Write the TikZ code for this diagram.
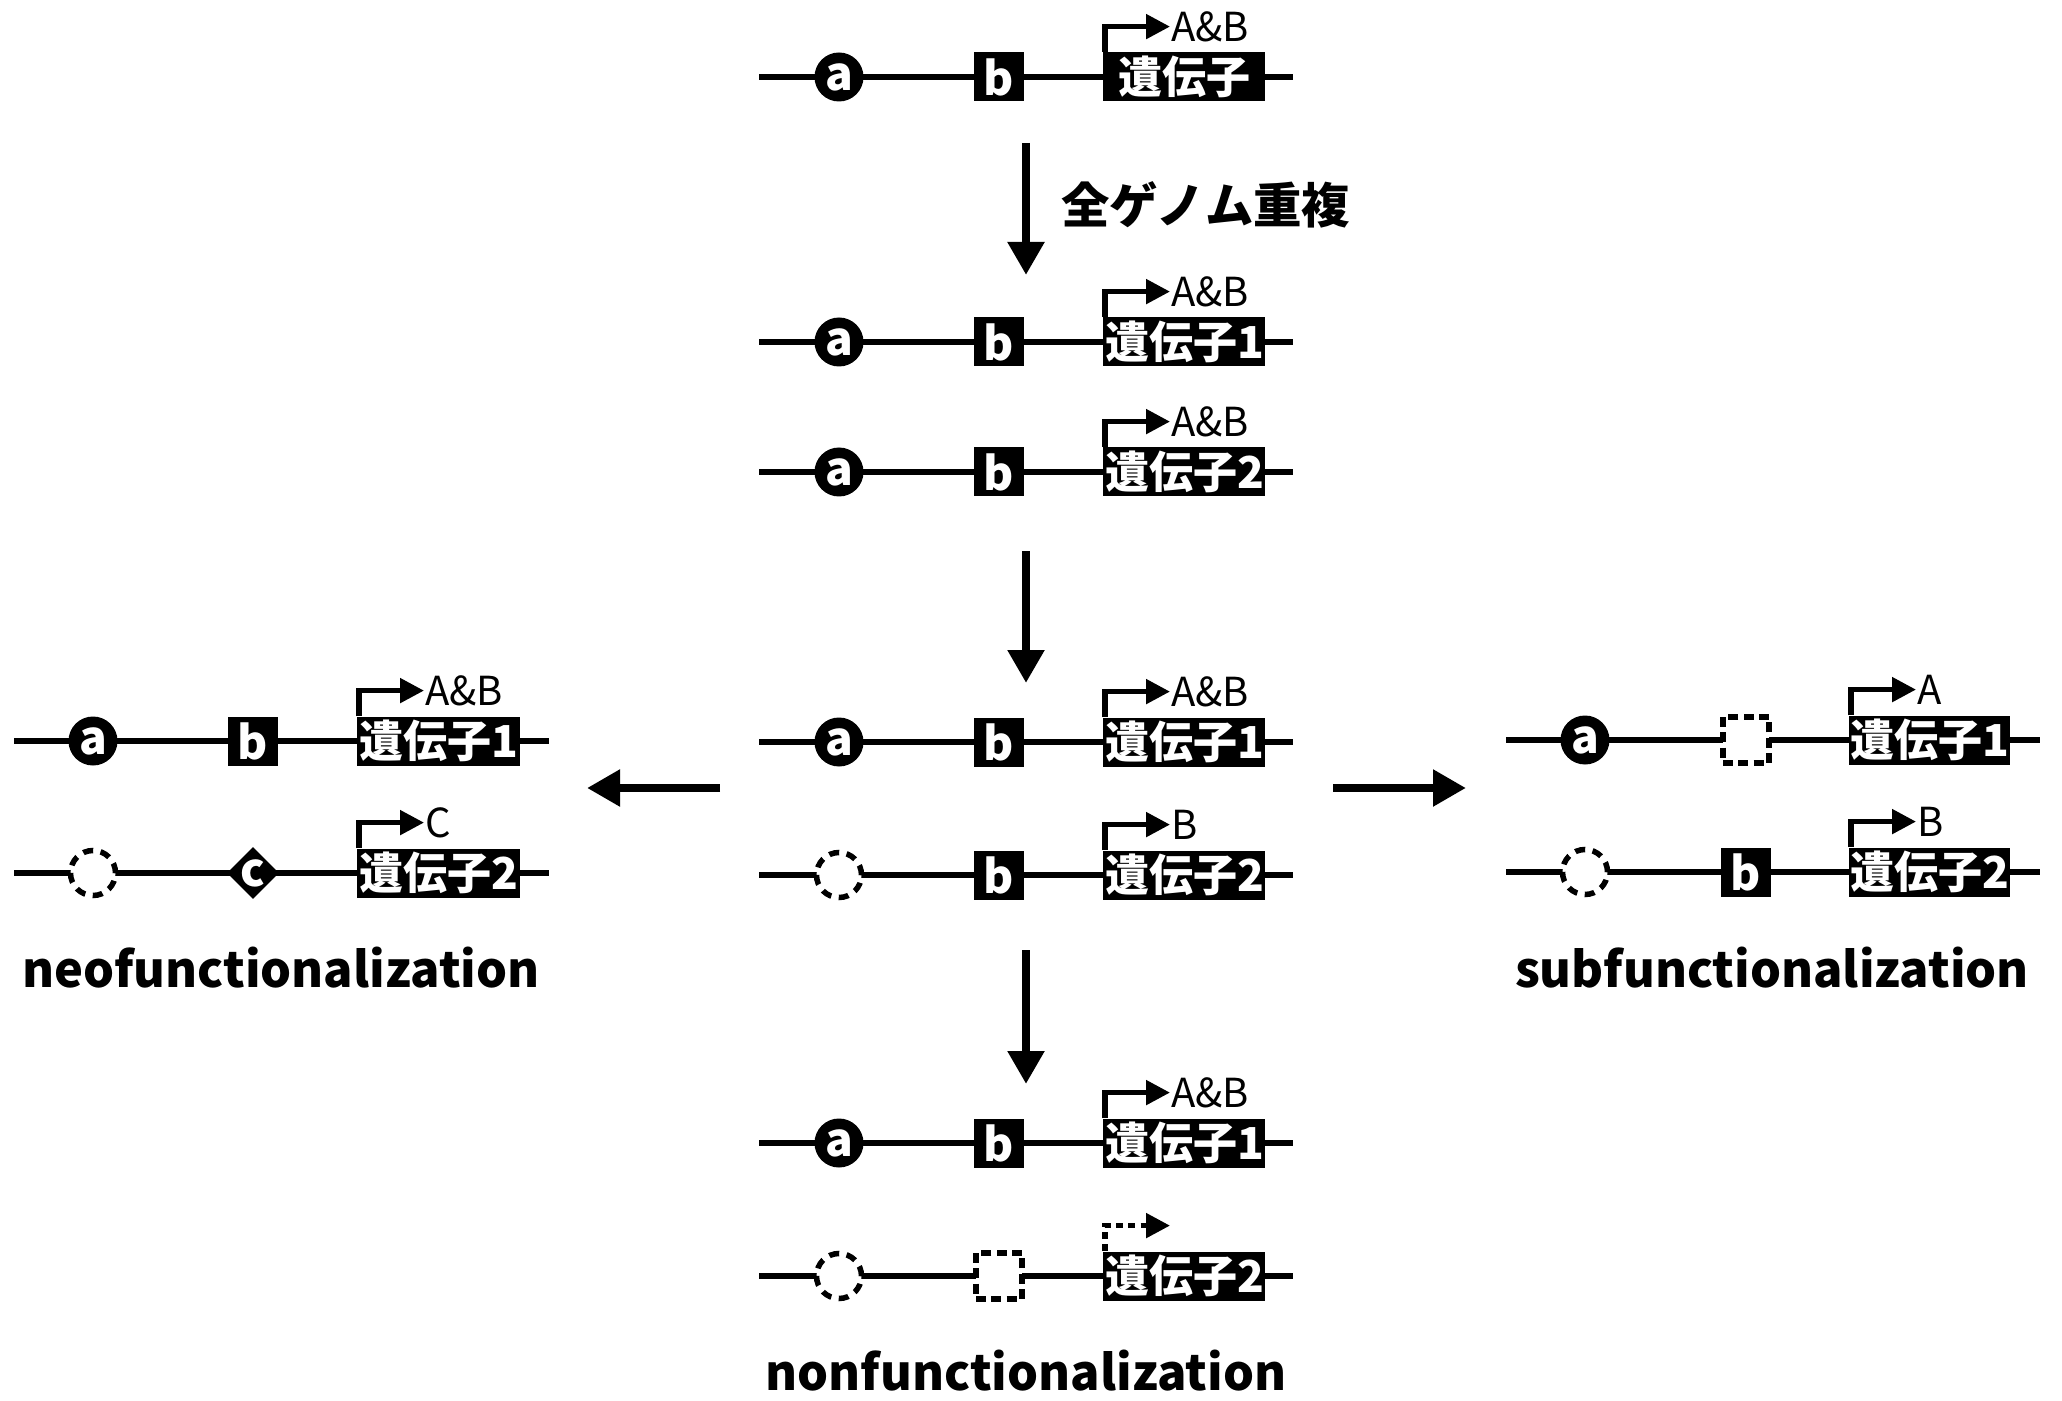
\documentclass[tikz,border=0pt]{standalone}
\usepackage{fontspec}
\setmainfont{Noto Sans CJK JP}
\usetikzlibrary{arrows.meta,shapes.geometric}
\tikzset{
  gline/.style={line width=3.4pt},
  elA/.style={circle,fill=black,text=white,minimum size=24.5pt,inner sep=0pt,font=\fontsize{23}{23}\selectfont\bfseries},
  elAdead/.style={circle,draw=black,fill=white,dash pattern=on 5pt off 3.8pt,line width=2.75pt,minimum size=22.5pt,inner sep=0pt},
  elB/.style={rectangle,fill=black,text=white,minimum width=25pt,minimum height=24.5pt,inner sep=0pt,font=\fontsize{23}{23}\selectfont\bfseries},
  elBdead/.style={rectangle,draw=black,fill=white,dash pattern=on 5pt off 2.67pt,line width=2.75pt,minimum width=23pt,minimum height=23pt,inner sep=0pt},
  elC/.style={diamond,fill=black,text=white,minimum width=24.5pt,minimum height=24pt,inner sep=0pt,font=\fontsize{23}{23}\selectfont\bfseries},
  gene/.style={rectangle,fill=black,text=white,anchor=west,minimum height=24.5pt,inner sep=0pt,font=\fontsize{22}{22}\selectfont\bfseries},
  prom/.style={line width=2.6pt,-{Triangle[length=12pt,width=12pt]}},
  promdead/.style={dash pattern=on 3.5pt off 2.6pt},
  promsolid/.style={},
  plabel/.style={anchor=base west,inner sep=0pt,font=\fontsize{20}{20}\selectfont},
  bigarrow/.style={line width=4.25pt,-{Triangle[length=16.5pt,width=17.5pt]}},
  title/.style={anchor=base,inner sep=0pt,font=\fontsize{24.4}{24.4}\selectfont\bfseries},
}
\newcommand\generow[9]{%
  \coordinate (#1s) at (\xs,#2);
  \coordinate (#1e) at (\xe,#2);
  \draw[gline] (#1s) -- (#1e);
  \node[#3] (#1a) at (\xa,#2) {#4};
  \node[#5] (#1b) at (\xb,#2) {#6};
  \node[gene,minimum width=\gw] (#1g) at (\xg,#2) {#7};
  \coordinate (#1p0) at ([xshift=1pt]#1g.north west);
  \coordinate (#1p1) at ([xshift=1pt,yshift=12.75pt]#1g.north west);
  \coordinate (#1p2) at ([xshift=33.5pt,yshift=12.75pt]#1g.north west);
  \draw[prom,#9] (#1p0) -- (#1p1) -- (#1p2);
  \node[plabel] (#1l) at ([xshift=34pt,yshift=5.5pt]#1g.north west) {#8};
}
\begin{document}
\begin{tikzpicture}[x=0.5pt,y=-0.5pt]
\useasboundingbox (0,0) rectangle (2062,1401);
% centre column
\def\xs{759}\def\xa{839}\def\xb{999}\def\xg{1103}\def\xe{1293}\def\gw{81pt}
\generow{t}{77}{elA}{a}{elB}{b}{遺伝子}{A\&B}{promsolid}
\generow{da}{342}{elA}{a}{elB}{b}{遺伝子1}{A\&B}{promsolid}
\generow{db}{472}{elA}{a}{elB}{b}{遺伝子2}{A\&B}{promsolid}
\generow{ma}{742}{elA}{a}{elB}{b}{遺伝子1}{A\&B}{promsolid}
\generow{mb}{875}{elAdead}{}{elB}{b}{遺伝子2}{B}{promsolid}
\generow{na}{1143}{elA}{a}{elB}{b}{遺伝子1}{A\&B}{promsolid}
\generow{nb}{1276}{elAdead}{}{elBdead}{}{遺伝子2}{}{promdead}
% left column
\def\xs{14}\def\xa{93}\def\xb{253}\def\xg{357}\def\xe{549}\def\gw{81.5pt}
\generow{la}{741}{elA}{a}{elB}{b}{遺伝子1}{A\&B}{promsolid}
\generow{lb}{873}{elAdead}{}{elC}{c}{遺伝子2}{C}{promsolid}
% right column
\def\xs{1506}\def\xa{1585}\def\xb{1746}\def\xg{1849}\def\xe{2040}\def\gw{80.5pt}
\generow{ra}{740}{elA}{a}{elBdead}{}{遺伝子1}{A}{promsolid}
\generow{rb}{872}{elAdead}{}{elB}{b}{遺伝子2}{B}{promsolid}
% arrows
\coordinate (a1s) at (1026,143); \coordinate (a1e) at (1026,275);
\coordinate (a2s) at (1026,551); \coordinate (a2e) at (1026,683);
\coordinate (a3s) at (1026,950); \coordinate (a3e) at (1026,1084);
\coordinate (als) at (720,788); \coordinate (ale) at (587,788);
\coordinate (ars) at (1333,788); \coordinate (are) at (1466,788);
\draw[bigarrow] (a1s) -- (a1e);
\draw[bigarrow] (a2s) -- (a2e);
\draw[bigarrow] (a3s) -- (a3e);
\draw[bigarrow] (als) -- (ale);
\draw[bigarrow] (ars) -- (are);
\node[anchor=base west,inner sep=0pt,font=\fontsize{24.2}{24.2}\selectfont\bfseries] (wgd) at (1061,224) {全ゲノム重複};
% titles
\node[title] (neo) at (281,987) {neofunctionalization};
\node[title] (sub) at (1772,987) {subfunctionalization};
\node[title] (non) at (1026,1390) {nonfunctionalization};
\end{tikzpicture}
\end{document}
